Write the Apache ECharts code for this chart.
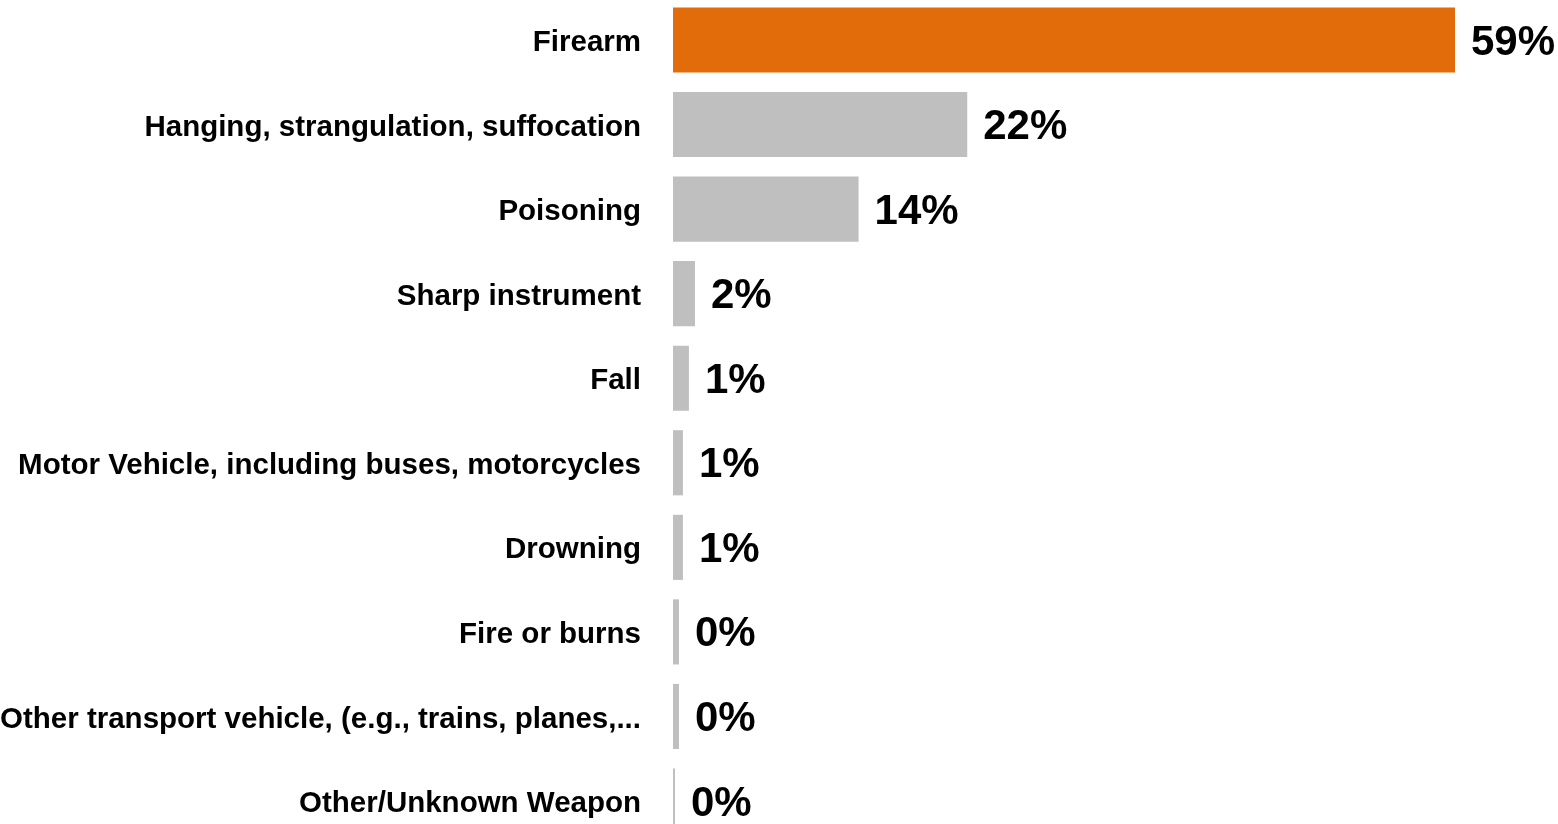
<!DOCTYPE html>
<html>
<head>
<meta charset="utf-8">
<script src="https://cdn.jsdelivr.net/npm/echarts@6/dist/echarts.min.js"></script>
<style>
html,body{margin:0;padding:0;background:#fff;}
#chart{width:1558px;height:824px;}
</style>
</head>
<body>
<div id="chart"></div>
<script>
const categories = [
  "Firearm",
  "Hanging, strangulation, suffocation",
  "Poisoning",
  "Sharp instrument",
  "Fall",
  "Motor Vehicle, including buses, motorcycles",
  "Drowning",
  "Fire or burns",
  "Other transport vehicle, (e.g., trains, planes,...",
  "Other/Unknown Weapon"
];
const values = [59.0, 22.2, 14.0, 1.66, 1.2, 0.75, 0.75, 0.45, 0.45, 0.15];
const highlightColor = "#E36C0A";
const baseColor = "#BFBFBF";
const FONT = "'Liberation Sans Narrow', 'Liberation Sans', Arial, sans-serif";

const chart = echarts.init(document.getElementById('chart'), null, {renderer: 'canvas'});
chart.setOption({
  animation: false,
  backgroundColor: '#ffffff',
  grid: {left: 673, right: 103, top: -2.3, bottom: -19.3, containLabel: false, outerBoundsMode: 'none'},
  xAxis: {
    type: 'value', min: 0, max: 59,
    show: false
  },
  yAxis: {
    type: 'category',
    data: categories,
    inverse: true,
    axisLine: {show: false},
    axisTick: {show: false},
    splitLine: {show: false},
    axisLabel: {
      margin: 32,
      color: '#000',
      fontFamily: FONT,
      fontWeight: 'bold',
      fontSize: 29.5,
      formatter: v => '{a|' + v + '}',
      rich: {
        a: {
          color: '#000',
          fontFamily: FONT,
          fontWeight: 'bold',
          fontSize: 29.5,
          padding: [6, 0, 0, 0]
        }
      }
    }
  },
  series: [{
    type: 'bar',
    data: values.map((v, i) => ({value: v, itemStyle: {color: i === 0 ? highlightColor : baseColor}})),
    barCategoryGap: '23%',
    label: {
      show: true,
      position: 'right',
      distance: 16,
      offset: [0, 3],
      color: '#000',
      fontFamily: FONT,
      fontWeight: 'bold',
      fontSize: 42,
      formatter: p => Math.round(p.value) + '%'
    }
  }]
});
</script>
</body>
</html>
